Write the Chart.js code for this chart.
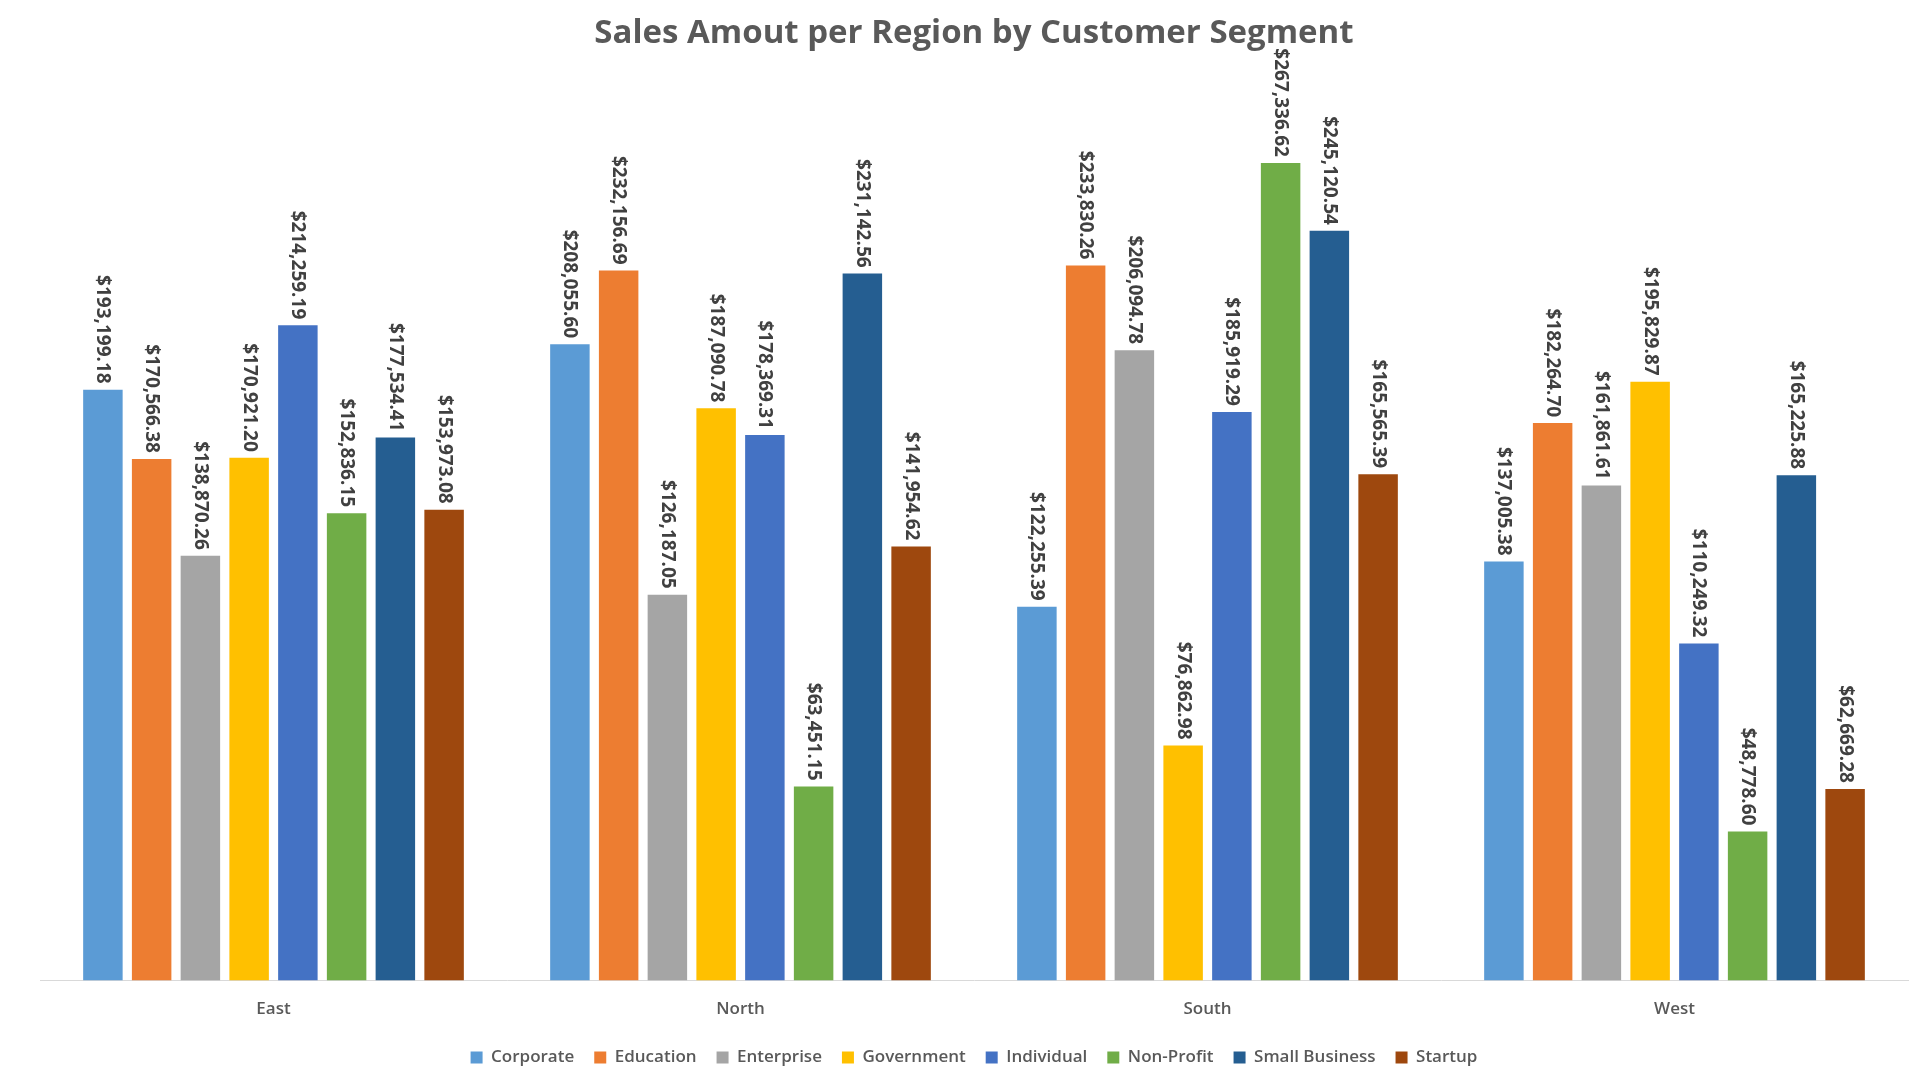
<!DOCTYPE html>
<html><head><meta charset="utf-8">
<script src="https://cdn.jsdelivr.net/npm/chart.js@4"></script>
<style>html,body{margin:0;padding:0;background:#fff}#w{width:1920px;height:1080px}</style>
</head><body><div id="w"><canvas id="c"></canvas></div>
<script>
const regions = ["East","North","South","West"];
const segments = ["Corporate","Education","Enterprise","Government","Individual","Non-Profit","Small Business","Startup"];
const corporate = [193199.18,208055.60,122255.39,137005.38];
const education = [170566.38,232156.69,233830.26,182264.70];
const enterprise = [138870.26,126187.05,206094.78,161861.61];
const government = [170921.20,187090.78,76862.98,195829.87];
const individual = [214259.19,178369.31,185919.29,110249.32];
const nonProfit = [152836.15,63451.15,267336.62,48778.60];
const smallBusiness = [177534.41,231142.56,245120.54,165225.88];
const startup = [153973.08,141954.62,165565.39,62669.28];
const seriesValues = [corporate,education,enterprise,government,individual,nonProfit,smallBusiness,startup];
const colors = ["#5B9BD5","#ED7D31","#A5A5A5","#FFC000","#4472C4","#70AD47","#255E91","#9E480E"];
const fmt = v => "$" + v.toLocaleString("en-US",{minimumFractionDigits:2,maximumFractionDigits:2});
const labelPlugin = {id:"lbl",afterDatasetsDraw(chart){
  const ctx=chart.ctx;ctx.save();
  ctx.font="bold 19px 'Open Sans', sans-serif";ctx.fillStyle="#404040";
  ctx.textAlign="left";ctx.textBaseline="middle";
  chart.data.datasets.forEach((ds,i)=>{chart.getDatasetMeta(i).data.forEach((b,j)=>{
    ctx.save();ctx.translate(b.x,b.y-6);ctx.rotate(Math.PI/2);ctx.fillText(fmt(ds.data[j]),0,0);ctx.restore();
  });});
  ctx.restore();}};
// rotate label so text reads top-to-bottom ending above the bar
labelPlugin.afterDatasetsDraw=function(chart){
  const ctx=chart.ctx;ctx.save();
  ctx.font="bold 19px 'Open Sans', sans-serif";ctx.fillStyle="#404040";
  ctx.textAlign="right";ctx.textBaseline="middle";
  chart.data.datasets.forEach((ds,i)=>{chart.getDatasetMeta(i).data.forEach((b,j)=>{
    ctx.save();ctx.translate(b.x,b.y-6);ctx.rotate(Math.PI/2);ctx.fillText(fmt(ds.data[j]),0,0);ctx.restore();
  });});
  ctx.restore();};
new Chart(document.getElementById("c"),{
  type:"bar",
  data:{labels:regions,datasets:segments.map((s,i)=>({label:s,data:seriesValues[i],backgroundColor:colors[i],barPercentage:0.81,categoryPercentage:0.835}))},
  options:{responsive:true,maintainAspectRatio:false,animation:false,
    layout:{padding:{left:40,right:12,top:0,bottom:4}},
    plugins:{
      title:{display:true,text:"Sales Amout per Region by Customer Segment",color:"#595959",font:{family:"'Open Sans', sans-serif",size:33,weight:"bold"},padding:{top:14,bottom:40}},
      legend:{position:"bottom",labels:{boxWidth:12,boxHeight:12,color:"#595959",font:{family:"'Open Sans', sans-serif",size:17,weight:"600"},padding:20}},
      tooltip:{enabled:false}},
    scales:{
      y:{display:false,min:0,max:290000},
      x:{grid:{display:false},border:{color:"#D9D9D9"},ticks:{color:"#595959",font:{family:"'Open Sans', sans-serif",size:17,weight:"600"},padding:10}}
    }},
  plugins:[labelPlugin]
});
</script></body></html>
